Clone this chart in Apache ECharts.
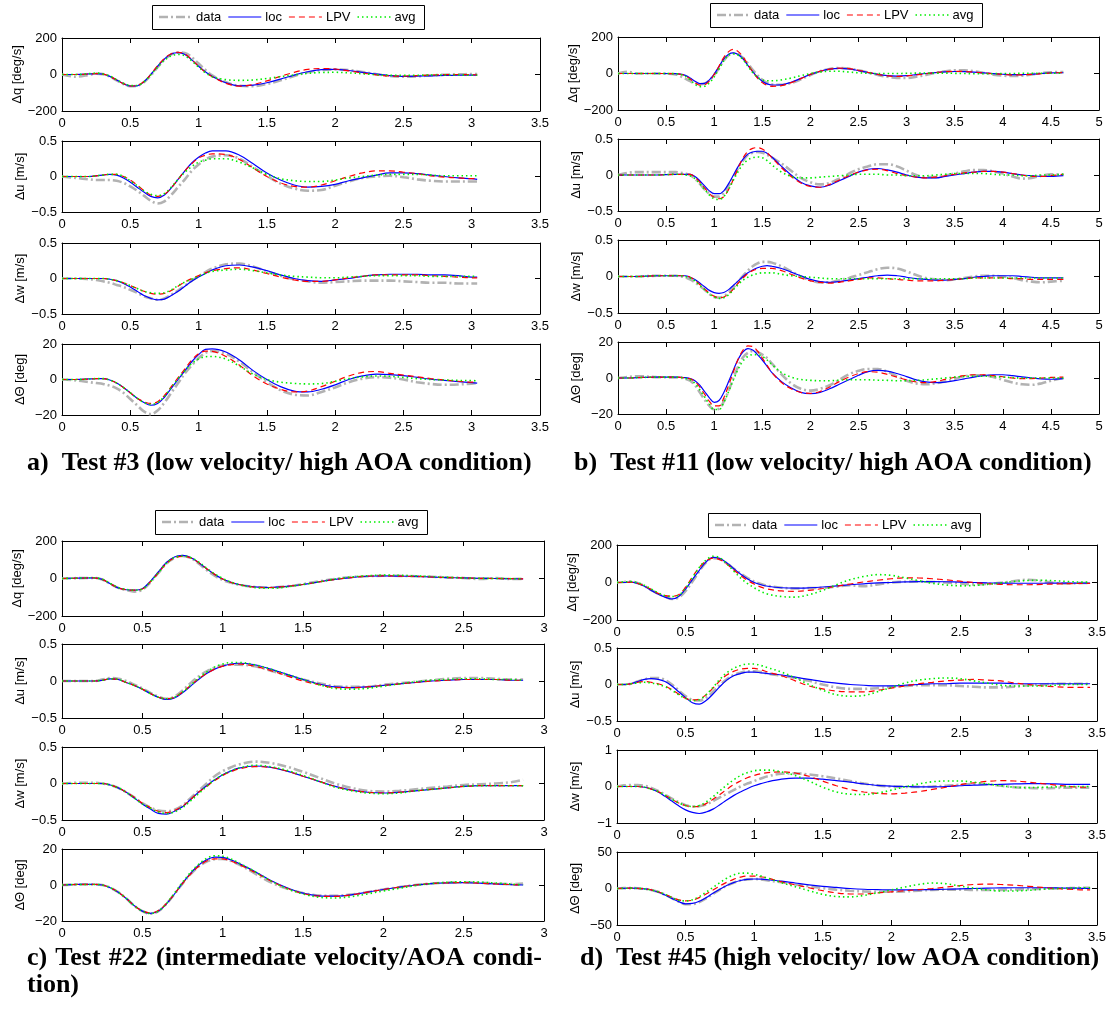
<!DOCTYPE html>
<html>
<head>
<meta charset="utf-8">
<script src="https://cdn.jsdelivr.net/npm/echarts@6/dist/echarts.min.js"></script>
<style>
  html, body { margin: 0; padding: 0; background: #fff; }
  #chart { width: 1109px; height: 1013px; }
</style>
</head>
<body>
<div id="chart"></div>
<script>
// ---------- time bases (s) ----------
const tA = [0,0.1,0.2,0.25,0.3,0.35,0.4,0.45,0.5,0.55,0.6,0.65,0.7,0.75,0.8,0.85,0.9,0.95,1.0,1.05,1.1,
  1.2,1.3,1.4,1.5,1.6,1.7,1.8,1.9,2.0,2.1,2.2,2.3,2.4,2.5,2.6,2.7,2.8,2.9,3.0,3.04];
const tB = [0,0.1,0.2,0.4,0.6,0.65,0.7,0.75,0.8,0.85,0.9,0.95,1.0,1.05,1.1,1.15,1.2,1.25,1.3,1.35,1.4,1.45,1.5,1.55,1.6,
  1.7,1.8,1.9,2.0,2.1,2.2,2.3,2.4,2.5,2.6,2.7,2.8,2.9,3.0,3.1,3.2,3.3,3.4,3.5,3.6,3.7,3.8,3.9,4.0,4.1,4.2,4.3,4.4,4.5,4.63];
const tC = [0,0.1,0.2,0.25,0.3,0.35,0.4,0.45,0.5,0.55,0.6,0.65,0.7,0.75,0.8,0.85,0.9,0.95,1.0,1.05,1.1,
  1.2,1.3,1.4,1.5,1.6,1.7,1.8,1.9,2.0,2.1,2.2,2.3,2.4,2.5,2.6,2.7,2.8,2.87];
const tD = [0,0.05,0.1,0.15,0.2,0.25,0.3,0.35,0.4,0.45,0.5,0.55,0.6,0.65,0.7,0.75,0.8,0.85,0.9,0.95,1.0,1.05,1.1,
  1.2,1.3,1.4,1.5,1.6,1.7,1.8,1.9,2.0,2.1,2.2,2.3,2.4,2.5,2.6,2.7,2.8,2.9,3.0,3.1,3.2,3.3,3.4,3.45];

// ---------- Test #3 ----------
const aDq = {
  data: [0,-12,-2,5,2,-12,-32,-52,-64,-62,-42,-5,40,82,110,120,118,95,60,25,-5,-42,-62,-64,-52,-32,-8,12,25,28,24,14,2,-8,-12,-10,-5,-1,1,2,2],
  loc:  [0,0,3,5,2,-10,-30,-50,-63,-62,-40,0,45,85,112,120,110,80,45,15,-10,-45,-62,-58,-45,-25,-3,15,27,28,22,12,2,-6,-10,-9,-7,-5,-4,-3,-3],
  LPV:  [0,0,3,5,2,-10,-30,-50,-63,-60,-38,0,48,88,114,122,112,82,45,12,-12,-48,-64,-55,-35,-10,12,28,33,30,20,8,-2,-8,-9,-6,-3,-1,0,-1,-2],
  avg:  [0,0,5,8,3,-8,-28,-48,-60,-60,-40,-2,40,78,102,110,102,75,40,10,-12,-28,-32,-30,-22,-12,-2,6,11,12,9,4,-1,-4,-5,-4,-3,-3,-3,-4,-4]
};
const aDu = {
  data: [0,-0.02,-0.04,-0.05,-0.05,-0.05,-0.06,-0.09,-0.14,-0.2,-0.27,-0.34,-0.38,-0.35,-0.26,-0.15,-0.04,0.08,0.17,0.24,0.28,0.30,0.25,0.13,0.01,-0.1,-0.17,-0.2,-0.19,-0.13,-0.07,-0.02,0.0,0.01,-0.01,-0.04,-0.06,-0.07,-0.07,-0.07,-0.07],
  loc:  [0,0,0,0.01,0.02,0.03,0.02,-0.02,-0.08,-0.15,-0.22,-0.28,-0.30,-0.26,-0.16,-0.04,0.08,0.19,0.27,0.33,0.36,0.36,0.30,0.18,0.05,-0.05,-0.12,-0.15,-0.14,-0.11,-0.06,-0.02,0.02,0.05,0.05,0.04,0.02,0.0,-0.02,-0.03,-0.04],
  LPV:  [0,0,0,0.01,0.02,0.03,0.03,0.0,-0.05,-0.12,-0.2,-0.26,-0.28,-0.25,-0.16,-0.04,0.08,0.18,0.26,0.30,0.32,0.31,0.24,0.12,0.0,-0.09,-0.14,-0.15,-0.12,-0.06,0.0,0.05,0.08,0.08,0.06,0.04,0.01,-0.01,-0.02,-0.03,-0.03],
  avg:  [0,0,0,0.01,0.02,0.03,0.03,0.0,-0.06,-0.13,-0.2,-0.25,-0.27,-0.24,-0.15,-0.04,0.06,0.14,0.2,0.23,0.25,0.25,0.2,0.12,0.03,-0.03,-0.06,-0.07,-0.07,-0.05,-0.02,0.0,0.02,0.03,0.03,0.03,0.02,0.01,0.01,0.01,0.01]
};
const aDw = {
  data: [0,0,-0.01,-0.02,-0.04,-0.06,-0.09,-0.12,-0.16,-0.2,-0.25,-0.28,-0.30,-0.28,-0.23,-0.17,-0.1,-0.03,0.03,0.09,0.14,0.2,0.21,0.17,0.1,0.04,-0.01,-0.04,-0.06,-0.05,-0.04,-0.03,-0.03,-0.03,-0.04,-0.05,-0.06,-0.06,-0.07,-0.07,-0.07],
  loc:  [0,0,0,0,0,-0.01,-0.03,-0.07,-0.12,-0.18,-0.24,-0.28,-0.30,-0.29,-0.24,-0.18,-0.11,-0.04,0.02,0.07,0.12,0.18,0.19,0.16,0.11,0.05,0.0,-0.03,-0.04,-0.02,0.0,0.03,0.05,0.06,0.06,0.06,0.05,0.05,0.04,0.02,0.02],
  LPV:  [0,0,0,0,0,-0.01,-0.03,-0.06,-0.1,-0.14,-0.18,-0.21,-0.22,-0.21,-0.17,-0.11,-0.05,0.0,0.04,0.08,0.11,0.14,0.15,0.12,0.07,0.02,-0.02,-0.04,-0.04,-0.02,0.01,0.03,0.05,0.05,0.05,0.05,0.04,0.03,0.02,0.01,0.01],
  avg:  [0,0,0,0,0,-0.01,-0.03,-0.06,-0.1,-0.14,-0.18,-0.2,-0.21,-0.2,-0.16,-0.1,-0.05,-0.01,0.03,0.07,0.1,0.12,0.13,0.11,0.08,0.05,0.03,0.02,0.01,0.01,0.02,0.03,0.04,0.04,0.04,0.04,0.03,0.03,0.03,0.03,0.03]
};
const aDT = {
  data: [0,-0.5,-1.5,-2,-2.5,-3.5,-5,-7.5,-11,-14.5,-18,-19.5,-17.5,-13,-7.5,-2,3.5,8,12,15,16,14.5,10,4,-1.5,-6,-8.5,-9,-7,-4.5,-1.5,0.5,1.3,1,0,-1.5,-2.5,-3,-2.8,-2.3,-2],
  loc:  [0,0,0.3,0.5,0.5,-0.3,-2,-4.5,-7.5,-10.5,-13,-14.5,-13.5,-10,-5,0,5,10,14,17,17.3,15.5,11,5,0,-4,-6.5,-7,-5.5,-3,0,2,3,2.8,2.2,1.2,0.2,-0.5,-1.2,-1.8,-2],
  LPV:  [0,0,0.3,0.5,0.5,-0.3,-2,-4.5,-7.5,-10.5,-12.5,-13.5,-12.5,-9,-4,1,6,11,14.5,16,15.8,13,8,2,-2.5,-5.5,-7,-6.5,-4,-1,2,4,4.5,3.5,2.5,1.5,0.5,-0.3,-1,-1.5,-1.5],
  avg:  [0,0,0.3,0.5,0.5,-0.3,-2,-4.5,-7.5,-10.5,-13,-14,-13,-9.5,-4.5,0.5,5,9,11.5,12.8,13,11.5,7.5,3,0,-1.5,-2.2,-2.5,-2.3,-1,0.5,1.5,2,1.8,1.2,0.5,0,-0.3,-0.5,-0.6,-0.7]
};

// ---------- Test #11 ----------
const bDq = {
  data: [0,10,0,0,-5,-15,-28,-42,-54,-58,-55,-38,-8,30,72,100,110,105,85,55,20,-10,-35,-52,-60,-62,-52,-32,-8,12,25,30,27,18,5,-8,-18,-24,-25,-18,-8,3,12,18,18,12,3,-6,-12,-14,-12,-5,2,7,8],
  loc:  [0,0,0,0,-1,-3,-10,-25,-42,-55,-54,-35,-3,38,80,106,113,104,80,45,10,-20,-42,-57,-63,-62,-48,-27,-5,12,24,28,25,16,5,-5,-12,-14,-12,-6,0,5,9,11,10,7,3,-1,-4,-6,-6,-4,0,3,4],
  LPV:  [0,0,0,0,-1,-4,-12,-30,-50,-64,-62,-42,-5,40,88,120,132,120,90,50,10,-25,-50,-65,-70,-66,-50,-28,-5,12,24,29,27,18,6,-5,-13,-16,-14,-8,-1,5,10,12,11,8,3,-1,-5,-7,-7,-5,-1,3,5],
  avg:  [0,0,0,0,-1,-5,-15,-35,-58,-72,-70,-52,-18,25,70,100,108,100,75,40,5,-20,-35,-40,-40,-35,-25,-12,0,8,12,12,8,4,1,0,0,0,1,2,2,2,2,1,0,-1,-1,-1,0,0,1,1,1,1,2]
};
const bDu = {
  data: [0,0.03,0.04,0.04,0.04,0.03,0.02,0.0,-0.05,-0.12,-0.2,-0.26,-0.3,-0.3,-0.25,-0.15,-0.03,0.1,0.2,0.28,0.31,0.32,0.31,0.28,0.24,0.16,0.06,-0.04,-0.1,-0.13,-0.11,-0.05,0.02,0.08,0.12,0.15,0.15,0.12,0.06,0.0,-0.03,-0.03,-0.01,0.02,0.05,0.07,0.07,0.05,0.02,-0.02,-0.05,-0.04,-0.01,0.01,0.01],
  loc:  [0,0,0,0,0.01,0.01,0.01,0.01,-0.02,-0.08,-0.15,-0.22,-0.26,-0.26,-0.22,-0.12,0.0,0.12,0.22,0.29,0.32,0.33,0.33,0.3,0.25,0.12,0.0,-0.1,-0.15,-0.17,-0.14,-0.08,-0.02,0.04,0.08,0.09,0.07,0.04,0.0,-0.03,-0.04,-0.04,-0.02,0.0,0.02,0.04,0.05,0.05,0.04,0.02,0.0,-0.01,-0.02,-0.02,-0.01],
  LPV:  [0,0,0,0,0.01,0.01,0.01,0.01,-0.03,-0.1,-0.18,-0.26,-0.31,-0.33,-0.3,-0.2,-0.06,0.1,0.24,0.33,0.37,0.38,0.36,0.31,0.24,0.1,-0.02,-0.11,-0.16,-0.17,-0.13,-0.07,-0.01,0.04,0.07,0.08,0.06,0.02,-0.01,-0.03,-0.04,-0.03,-0.01,0.01,0.03,0.04,0.05,0.05,0.04,0.02,0.0,-0.02,-0.02,-0.01,0.01],
  avg:  [0,0,0,0,0.01,0.01,0.0,-0.01,-0.05,-0.12,-0.2,-0.28,-0.33,-0.34,-0.3,-0.2,-0.07,0.05,0.15,0.21,0.24,0.25,0.24,0.2,0.14,0.04,-0.02,-0.04,-0.04,-0.03,-0.02,-0.01,0.0,0.01,0.01,0.01,0.0,0.0,-0.01,-0.01,-0.01,0.0,0.01,0.02,0.02,0.02,0.02,0.01,0.0,0.0,-0.01,-0.01,0.0,0.0,0.01]
};
const bDw = {
  data: [0,0,0,0.01,0.01,0.0,-0.01,-0.04,-0.08,-0.13,-0.18,-0.24,-0.28,-0.29,-0.27,-0.22,-0.15,-0.07,0.01,0.08,0.14,0.18,0.2,0.2,0.19,0.14,0.07,0.0,-0.05,-0.08,-0.08,-0.05,-0.02,0.02,0.06,0.1,0.12,0.11,0.07,0.02,-0.02,-0.04,-0.05,-0.04,-0.02,0.0,0.01,0.01,0.0,-0.02,-0.05,-0.07,-0.08,-0.07,-0.06],
  loc:  [0,0,0,0.01,0.01,0.01,0.01,-0.01,-0.04,-0.09,-0.14,-0.19,-0.22,-0.23,-0.22,-0.18,-0.12,-0.06,0.0,0.05,0.09,0.12,0.14,0.15,0.14,0.11,0.06,0.01,-0.04,-0.07,-0.08,-0.07,-0.05,-0.03,-0.01,0.01,0.02,0.01,-0.01,-0.03,-0.04,-0.05,-0.05,-0.04,-0.03,-0.01,0.0,0.01,0.01,0.01,0.0,-0.01,-0.02,-0.02,-0.02],
  LPV:  [0,0,0,0.01,0.01,0.01,0.01,-0.01,-0.05,-0.11,-0.17,-0.23,-0.27,-0.29,-0.28,-0.24,-0.17,-0.09,-0.02,0.04,0.08,0.1,0.11,0.11,0.11,0.08,0.03,-0.02,-0.06,-0.08,-0.09,-0.08,-0.06,-0.04,-0.02,-0.02,-0.03,-0.04,-0.05,-0.06,-0.06,-0.06,-0.05,-0.04,-0.03,-0.02,-0.02,-0.02,-0.02,-0.03,-0.03,-0.04,-0.04,-0.04,-0.04],
  avg:  [0,0,0,0.01,0.01,0.01,0.0,-0.02,-0.06,-0.12,-0.18,-0.24,-0.28,-0.3,-0.29,-0.25,-0.18,-0.11,-0.05,-0.01,0.02,0.04,0.05,0.05,0.05,0.03,0.01,0.0,-0.01,-0.02,-0.03,-0.03,-0.03,-0.03,-0.03,-0.03,-0.03,-0.03,-0.03,-0.03,-0.03,-0.03,-0.03,-0.03,-0.03,-0.02,-0.02,-0.02,-0.02,-0.02,-0.02,-0.02,-0.02,-0.02,-0.02]
};
const bDT = {
  data: [0,0.5,1,0.5,0.3,0.2,-0.5,-1.5,-4,-8,-12,-15.5,-17.5,-17,-13,-7,0,6.5,11.5,14,15,14.5,13,11,8,2,-3,-6,-7,-6,-4,-1,2,4,5,5,3.5,1,-1.5,-3,-3.5,-3,-2,-0.5,1,1.5,1.5,0.5,-1,-2.5,-3.5,-3.8,-3,-1.5,0],
  loc:  [0,0,0.2,0.5,0.5,0.4,0.2,-0.3,-1.5,-4,-7.5,-11,-13.5,-12.5,-8,-2,4.5,10.5,14.5,16.3,15.5,13,10,6.5,3,-2,-5.5,-8,-8.7,-8,-6,-3.5,-1,1.5,3.5,4.2,3.8,2.5,0.8,-1,-2.2,-2.6,-2.3,-1.5,-0.5,0.5,1.3,1.8,1.8,1.3,0.6,0,-0.5,-0.7,-0.3],
  LPV:  [0,0,0.2,0.5,0.5,0.4,0.1,-0.5,-2,-5,-9,-13,-15.5,-15.5,-11,-4,3.5,10.5,15.5,17.8,17.5,15,11,7,3,-2.5,-6,-8,-8.5,-7.5,-5,-2,0.5,2.5,3.5,3.2,2,0.5,-1,-2.2,-2.6,-2,-0.8,0.4,1.3,1.8,1.8,1.3,0.7,0,-0.4,-0.3,0,0.3,0.5],
  avg:  [0,0,0.2,0.5,0.5,0.3,-0.2,-1,-3,-6.5,-10.5,-14.5,-17.5,-17.5,-13.5,-7.5,-1,5,9.5,12,13,13,12,10,7.5,3,0.5,-0.8,-1.3,-1.5,-1.5,-1.2,-1,-1,-1,-1.2,-1.3,-1.5,-1.5,-1.3,-1,-0.5,0,0.5,0.8,1,1,0.8,0.5,0.2,0,0,0,0,0]
};

// ---------- Test #22 ----------
const cDq = {
  data: [0,2,3,-5,-28,-50,-62,-70,-60,-20,30,80,110,120,110,80,45,15,-8,-22,-33,-45,-48,-42,-30,-15,-2,8,12,15,14,12,9,6,3,-3,2,-3,-2],
  loc:  [0,2,3,-5,-28,-50,-60,-62,-55,-15,35,85,115,123,112,85,52,22,-3,-20,-32,-45,-48,-42,-32,-18,-5,5,12,14,13,11,8,5,3,1,0,-1,-2],
  LPV:  [0,2,3,-5,-28,-50,-60,-62,-56,-18,30,80,110,118,110,85,52,22,-3,-20,-32,-46,-48,-42,-32,-18,-5,5,12,14,13,11,8,5,3,1,0,-1,-2],
  avg:  [0,2,4,-4,-26,-48,-58,-62,-56,-18,32,82,112,120,112,88,55,25,0,-18,-32,-48,-52,-45,-32,-18,-3,8,15,18,17,14,10,6,3,1,0,-1,-2]
};
const cDu = {
  data: [0,0,0,0.02,0.04,0.03,0.0,-0.05,-0.1,-0.16,-0.21,-0.24,-0.21,-0.13,-0.03,0.06,0.13,0.18,0.21,0.22,0.22,0.2,0.14,0.08,0.02,-0.03,-0.07,-0.08,-0.08,-0.05,-0.03,-0.01,0.01,0.03,0.04,0.04,0.03,0.02,0.02],
  loc:  [0,0,0,0.01,0.03,0.02,-0.02,-0.06,-0.11,-0.17,-0.22,-0.25,-0.23,-0.16,-0.07,0.02,0.1,0.16,0.2,0.23,0.24,0.22,0.16,0.09,0.02,-0.04,-0.08,-0.09,-0.08,-0.06,-0.04,-0.02,0.0,0.01,0.02,0.02,0.02,0.01,0.01],
  LPV:  [0,0,0,0.01,0.03,0.02,-0.02,-0.06,-0.11,-0.17,-0.22,-0.24,-0.22,-0.15,-0.06,0.03,0.1,0.16,0.2,0.22,0.23,0.2,0.14,0.07,0.0,-0.05,-0.09,-0.09,-0.08,-0.06,-0.04,-0.02,0.0,0.01,0.02,0.02,0.02,0.01,0.01],
  avg:  [0,0,0,0.01,0.03,0.02,-0.02,-0.06,-0.11,-0.17,-0.22,-0.24,-0.22,-0.15,-0.06,0.04,0.12,0.19,0.23,0.25,0.25,0.22,0.16,0.09,0.02,-0.05,-0.1,-0.11,-0.1,-0.07,-0.04,-0.01,0.01,0.02,0.03,0.03,0.02,0.02,0.01]
};
const cDw = {
  data: [0,0.01,0.01,0,-0.02,-0.06,-0.12,-0.19,-0.27,-0.33,-0.37,-0.38,-0.36,-0.3,-0.2,-0.1,0.0,0.1,0.17,0.22,0.26,0.3,0.28,0.23,0.16,0.08,0.0,-0.06,-0.1,-0.11,-0.1,-0.08,-0.06,-0.04,-0.02,-0.01,0.0,0.02,0.05],
  loc:  [0,0,0,0,-0.02,-0.06,-0.12,-0.2,-0.28,-0.35,-0.41,-0.42,-0.38,-0.32,-0.22,-0.12,-0.03,0.05,0.12,0.17,0.21,0.24,0.22,0.17,0.1,0.03,-0.04,-0.09,-0.12,-0.13,-0.12,-0.1,-0.08,-0.06,-0.04,-0.03,-0.03,-0.03,-0.03],
  LPV:  [0,0,0,0,-0.02,-0.06,-0.12,-0.19,-0.27,-0.33,-0.38,-0.4,-0.37,-0.31,-0.22,-0.12,-0.04,0.04,0.11,0.16,0.2,0.23,0.22,0.17,0.1,0.03,-0.04,-0.09,-0.12,-0.13,-0.12,-0.1,-0.08,-0.06,-0.04,-0.03,-0.03,-0.03,-0.03],
  avg:  [0,0,0,0,-0.02,-0.06,-0.12,-0.2,-0.28,-0.34,-0.39,-0.41,-0.39,-0.33,-0.24,-0.14,-0.04,0.05,0.12,0.17,0.21,0.25,0.23,0.18,0.11,0.03,-0.05,-0.1,-0.13,-0.14,-0.13,-0.1,-0.08,-0.06,-0.04,-0.03,-0.03,-0.03,-0.03]
};
const cDT = {
  data: [0,0.3,0.3,0,-1.5,-4,-7.5,-11.5,-14.5,-16,-14.5,-10.5,-5,0.8,6,10.3,13,14.3,14.5,13.5,11.5,6.5,1.5,-2,-4.5,-5.8,-6,-5.3,-4,-2.5,-1.2,0,0.8,1.3,1.5,1.3,0.8,0.5,0.8],
  loc:  [0,0.3,0.3,0,-1.5,-4,-7.5,-11.5,-14.5,-15.8,-14.5,-10.5,-5,1,6.5,11,14,15.5,15.3,14,12,7.5,2.5,-1.5,-4.5,-6,-6.2,-5.5,-4,-2.5,-1.2,0,0.8,1.2,1.3,1,0.6,0.2,0],
  LPV:  [0,0.3,0.3,0,-1.5,-4,-7.5,-11.5,-14.3,-15.5,-14.2,-10.3,-5,0.8,6,10.3,13.3,14.5,14.5,13.3,11.5,7,2.2,-1.8,-4.7,-6.2,-6.3,-5.5,-4,-2.5,-1.2,0,0.8,1.2,1.3,1,0.6,0.2,0],
  avg:  [0,0.3,0.3,0,-1.5,-4,-7.5,-11.5,-14.5,-15.8,-14.5,-10.3,-4.5,1.5,7,11.5,14.8,16.2,16,14.5,12.3,7.5,2.3,-2,-5,-6.8,-7.2,-6.5,-5,-3.3,-1.8,-0.3,0.8,1.5,1.8,1.6,1.1,0.5,0]
};

// ---------- Test #45 ----------
const dDq = {
  data: [0,3,5,-3,-18,-40,-60,-75,-88,-80,-45,5,60,108,130,125,102,75,48,25,5,-8,-18,-28,-32,-30,-28,-22,-15,-20,-10,0,4,5,3,0,-5,-10,-8,-2,8,15,8,-3,-5,-3,-3],
  loc:  [0,0,2,-5,-20,-42,-62,-78,-88,-75,-35,15,65,110,134,128,105,75,45,20,0,-12,-20,-28,-30,-28,-24,-18,-12,-7,-2,0,3,5,5,4,2,0,-2,-3,-4,-4,-4,-3,-3,-3,-3],
  LPV:  [0,0,2,-5,-18,-38,-58,-70,-73,-65,-25,30,80,115,130,122,98,68,38,12,-8,-25,-35,-45,-47,-42,-32,-20,-8,3,12,20,25,24,20,14,7,0,-6,-10,-12,-12,-10,-8,-6,-5,-5],
  avg:  [0,3,5,-2,-15,-35,-55,-70,-75,-68,-30,25,80,120,140,132,100,62,25,-5,-28,-48,-62,-75,-78,-65,-42,-12,15,32,42,38,25,10,-4,-13,-18,-16,-10,-2,6,11,12,9,5,2,2]
};
const dDu = {
  data: [0,0,0.01,0.04,0.07,0.09,0.09,0.06,0.0,-0.08,-0.16,-0.21,-0.22,-0.18,-0.1,-0.01,0.07,0.13,0.16,0.18,0.18,0.17,0.15,0.12,0.09,0.05,0.0,-0.04,-0.06,-0.06,-0.05,-0.03,-0.02,-0.01,-0.01,-0.01,-0.02,-0.03,-0.04,-0.04,-0.03,-0.01,0.0,0.01,0.01,0.01,0.01],
  loc:  [0,0,0.01,0.04,0.07,0.08,0.07,0.04,-0.02,-0.1,-0.18,-0.25,-0.27,-0.22,-0.13,-0.03,0.06,0.12,0.15,0.17,0.17,0.16,0.15,0.13,0.1,0.07,0.04,0.02,0.0,-0.01,-0.02,-0.02,-0.01,0.0,0.01,0.01,0.02,0.02,0.02,0.02,0.01,0.01,0.01,0.01,0.01,0.01,0.01],
  LPV:  [0,0,0.01,0.03,0.04,0.03,0.01,-0.02,-0.07,-0.13,-0.19,-0.21,-0.2,-0.14,-0.05,0.05,0.13,0.18,0.21,0.22,0.22,0.2,0.17,0.12,0.05,-0.02,-0.06,-0.09,-0.1,-0.1,-0.08,-0.05,-0.02,0.01,0.03,0.05,0.06,0.07,0.06,0.05,0.02,0.0,-0.02,-0.03,-0.04,-0.04,-0.04],
  avg:  [0,0,0.01,0.02,0.03,0.02,0.0,-0.03,-0.08,-0.14,-0.19,-0.22,-0.21,-0.14,-0.04,0.07,0.16,0.22,0.26,0.28,0.28,0.26,0.23,0.17,0.09,0.0,-0.08,-0.14,-0.16,-0.15,-0.1,-0.04,0.02,0.06,0.08,0.09,0.08,0.05,0.02,-0.01,-0.02,-0.02,-0.02,-0.01,0.0,0.0,0.0]
};
const dDw = {
  data: [0,0.03,0.04,0.04,0.02,-0.04,-0.12,-0.22,-0.33,-0.43,-0.51,-0.55,-0.54,-0.49,-0.4,-0.3,-0.2,-0.1,0.0,0.08,0.15,0.22,0.28,0.35,0.36,0.33,0.28,0.22,0.15,0.08,0.03,0.0,-0.01,-0.01,0.0,0.02,0.05,0.07,0.06,0.02,-0.02,-0.04,-0.05,-0.04,-0.03,-0.03,-0.03],
  loc:  [0,0,0,0,-0.02,-0.07,-0.15,-0.27,-0.4,-0.53,-0.64,-0.71,-0.74,-0.7,-0.62,-0.5,-0.37,-0.25,-0.15,-0.06,0.02,0.08,0.13,0.2,0.23,0.23,0.2,0.16,0.12,0.07,0.03,0.01,0.0,-0.01,-0.01,0.0,0.02,0.04,0.05,0.06,0.07,0.08,0.08,0.07,0.06,0.06,0.06],
  LPV:  [0,0,0,0,-0.02,-0.07,-0.14,-0.24,-0.35,-0.45,-0.52,-0.55,-0.54,-0.47,-0.35,-0.22,-0.08,0.05,0.15,0.24,0.3,0.35,0.38,0.4,0.37,0.28,0.15,0.02,-0.08,-0.15,-0.19,-0.2,-0.18,-0.14,-0.08,-0.02,0.05,0.1,0.14,0.16,0.15,0.12,0.08,0.04,0.0,-0.02,-0.02],
  avg:  [0,0,0,0,-0.02,-0.07,-0.14,-0.24,-0.35,-0.45,-0.52,-0.55,-0.52,-0.42,-0.28,-0.12,0.04,0.18,0.3,0.38,0.43,0.45,0.45,0.4,0.3,0.15,-0.02,-0.15,-0.21,-0.22,-0.18,-0.1,-0.01,0.07,0.13,0.15,0.15,0.12,0.07,0.02,-0.02,-0.03,-0.02,-0.01,0.0,0.0,0.0]
};
const dDT = {
  data: [0,0.5,0.5,0.3,-0.5,-2,-4.5,-8.5,-13,-18,-21.5,-21.5,-18.5,-13.5,-7.5,-1.5,4,8,11,12.5,13,12.5,11,8.5,5.5,3,0.5,-1.5,-3,-4,-4.5,-4.5,-4,-3,-2,-1.5,-1.5,-2,-2,-2,-1.5,-1,-0.5,0,0.5,1,1],
  loc:  [0,0.3,0.5,0.3,-0.5,-2,-5,-9,-13.5,-18,-21,-20.5,-17.5,-12.5,-6.5,-1,4,8,11,12.5,13,12.8,12,10,7.5,5,3,1.5,0,-1,-1.5,-2,-2,-1.8,-1.5,-1,-0.5,0,0.5,0.8,1,1,1,0.8,0.5,0.3,0],
  LPV:  [0,0.3,0.5,0.3,-0.5,-2,-4.5,-8,-12,-15.5,-17,-16,-12.5,-7.5,-2,3.5,8.5,12.5,15.5,17,17,16,14.5,9,5,1,-3,-6,-7.5,-7.5,-6,-4.5,-3,-1.5,0,2,4,5.5,6,5.5,4.5,3,1.5,0,-1,-2,-2],
  avg:  [0,0.3,0.5,0.3,-0.5,-2,-4.5,-8,-12.5,-16,-17,-15.5,-11,-5,1.5,8,14,18.5,21,21,19.5,17,14,8,2.5,-3,-8,-11,-11.5,-9.5,-6,-2,2,5.5,7.5,6.5,3.5,0.5,-2,-3.5,-3.5,-2.5,-1,0,0.5,1,1]
};

// ---------- labels ----------
const seriesNames = ['data', 'loc', 'LPV', 'avg'];
const yNames = ['Δq [deg/s]', 'Δu [m/s]', 'Δw [m/s]', 'ΔΘ [deg]'];
const captions = {
  a: 'a)  Test #3 (low velocity/ high AOA condition)',
  b: 'b)  Test #11 (low velocity/ high AOA condition)',
  c1: ['c)', 'Test', '#22', '(intermediate', 'velocity/AOA', 'condi-'],
  c2: 'tion)',
  d: 'd)  Test #45 (high velocity/ low AOA condition)'
};

// ---------- layout of the four test panels ----------
const panels = [
  { t: tA, rows: [aDq, aDu, aDw, aDT], xMax: 3.5, yLim: [200, 0.5, 0.5, 20],
    left: 62, width: 478, tops: [38, 141, 243, 344], heights: [73, 71, 71, 71], legend: [152, 5] },
  { t: tB, rows: [bDq, bDu, bDw, bDT], xMax: 5, yLim: [200, 0.5, 0.5, 20],
    left: 618, width: 481, tops: [37, 139, 240, 342], heights: [73, 72, 73, 72], legend: [710, 3] },
  { t: tC, rows: [cDq, cDu, cDw, cDT], xMax: 3, yLim: [200, 0.5, 0.5, 20],
    left: 62, width: 482, tops: [541, 644, 747, 849], heights: [75, 74, 73, 72], legend: [155, 510] },
  { t: tD, rows: [dDq, dDu, dDw, dDT], xMax: 3.5, yLim: [200, 0.5, 1, 50],
    left: 617, width: 480, tops: [545, 648, 750, 852], heights: [75, 73, 73, 73], legend: [708, 513] }
];

const lineStyles = {
  data: { color: '#b2b2b2', width: 2.6, type: [9, 3, 2, 3] },
  loc:  { color: '#0000ff', width: 1.2, type: 'solid' },
  LPV:  { color: '#ff0000', width: 1.2, type: [6, 4] },
  avg:  { color: '#00ee00', width: 1.6, type: [1.5, 3] }
};

const FONT = 'Liberation Sans';
const minus = v => String(v).replace('-', '\u2212');

const grids = [], xAxes = [], yAxes = [], series = [], graphic = [];
const measureCtx = document.createElement('canvas').getContext('2d');
function textWidth(text, font) { measureCtx.font = font; return measureCtx.measureText(text).width; }

// boxed legend: line sample followed by its label, for each series
function addLegend(x0, y0) {
  const font = '13px "' + FONT + '"';
  const sample = 33, gapSampleText = 4, gapItems = 7, padL = 7, padR = 9, h = 24;
  const yc = y0 + h / 2;
  let x = x0 + padL;
  const items = [];
  seriesNames.forEach(name => {
    const st = lineStyles[name];
    items.push({ type: 'line', silent: true, z: 101,
      shape: { x1: x, y1: yc, x2: x + sample, y2: yc },
      style: { stroke: st.color, lineWidth: st.width, lineDash: st.type === 'solid' ? null : st.type } });
    x += sample + gapSampleText;
    items.push({ type: 'text', silent: true, z: 101,
      style: { text: name, x, y: yc, font, fill: '#000', verticalAlign: 'middle', align: 'left' } });
    x += textWidth(name, font) + gapItems;
  });
  const w = x - gapItems + padR - x0;
  graphic.push({ type: 'rect', silent: true, z: 100,
    shape: { x: x0 + 0.5, y: y0 + 0.5, width: Math.round(w), height: h },
    style: { fill: '#fff', stroke: '#000', lineWidth: 1 } });
  graphic.push(...items);
}

panels.forEach(p => {
  addLegend(p.legend[0], p.legend[1]);
  p.rows.forEach((row, r) => {
    const g = grids.length;
    grids.push({ left: p.left, top: p.tops[r], width: p.width, height: p.heights[r] });
    const common = {
      gridIndex: g, type: 'value', min: 0, max: p.xMax, interval: 0.5,
      axisLine: { onZero: false, lineStyle: { color: '#000', width: 1 } },
      axisTick: { inside: true, length: 5, lineStyle: { color: '#000' } },
      splitLine: { show: false }
    };
    const xi = xAxes.length;
    xAxes.push(Object.assign({}, common, {
      position: 'bottom',
      axisLabel: { color: '#000', fontFamily: FONT, fontSize: 13, margin: 6 }
    }));
    xAxes.push(Object.assign({}, common, { position: 'top', axisLabel: { show: false } }));
    const lim = p.yLim[r];
    const ycommon = {
      gridIndex: g, type: 'value', min: -lim, max: lim, interval: lim,
      axisLine: { onZero: false, lineStyle: { color: '#000', width: 1 } },
      axisTick: { inside: true, length: 5, lineStyle: { color: '#000' } },
      splitLine: { show: false }
    };
    const yi = yAxes.length;
    yAxes.push(Object.assign({}, ycommon, {
      position: 'left',
      name: yNames[r], nameLocation: 'middle', nameGap: 35,
      nameTextStyle: { fontFamily: FONT, fontSize: 13, color: '#000' },
      axisLabel: { color: '#000', fontFamily: FONT, fontSize: 13, margin: 5, formatter: minus }
    }));
    yAxes.push(Object.assign({}, ycommon, { position: 'right', axisLabel: { show: false } }));
    seriesNames.forEach(name => {
      series.push({
        name, type: 'line', xAxisIndex: xi, yAxisIndex: yi,
        data: p.t.map((t, i) => [t, row[name][i]]),
        symbol: 'none', smooth: 0.35, silent: true,
        lineStyle: lineStyles[name], itemStyle: { color: lineStyles[name].color },
        z: name === 'data' ? 1 : 2
      });
    });
  });
});

// captions (bold serif, like the figure's typesetting)
const capFont = 'bold 26px "Liberation Serif"';
function capText(text, x, y) {
  graphic.push({ type: 'text', silent: true,
    style: { text, x, y, font: capFont, fill: '#000', verticalAlign: 'middle' } });
}
capText(captions.a, 27, 463);
capText(captions.b, 574, 463);
capText(captions.d, 580, 958);
capText(captions.c2, 27, 985);
// justified first line of caption c
(function () {
  const words = captions.c1;
  const widths = words.map(w => textWidth(w, capFont));
  const x0 = 27, x1 = 542;
  const gap = (x1 - x0 - widths.reduce((s, w) => s + w, 0)) / (words.length - 1);
  let x = x0;
  words.forEach((w, i) => { capText(w, x, 958); x += widths[i] + gap; });
})();

const chart = echarts.init(document.getElementById('chart'), null, { renderer: 'canvas' });
chart.setOption({
  animation: false,
  backgroundColor: '#fff',
  grid: grids, xAxis: xAxes, yAxis: yAxes,
  series, graphic
});
</script>
</body>
</html>
